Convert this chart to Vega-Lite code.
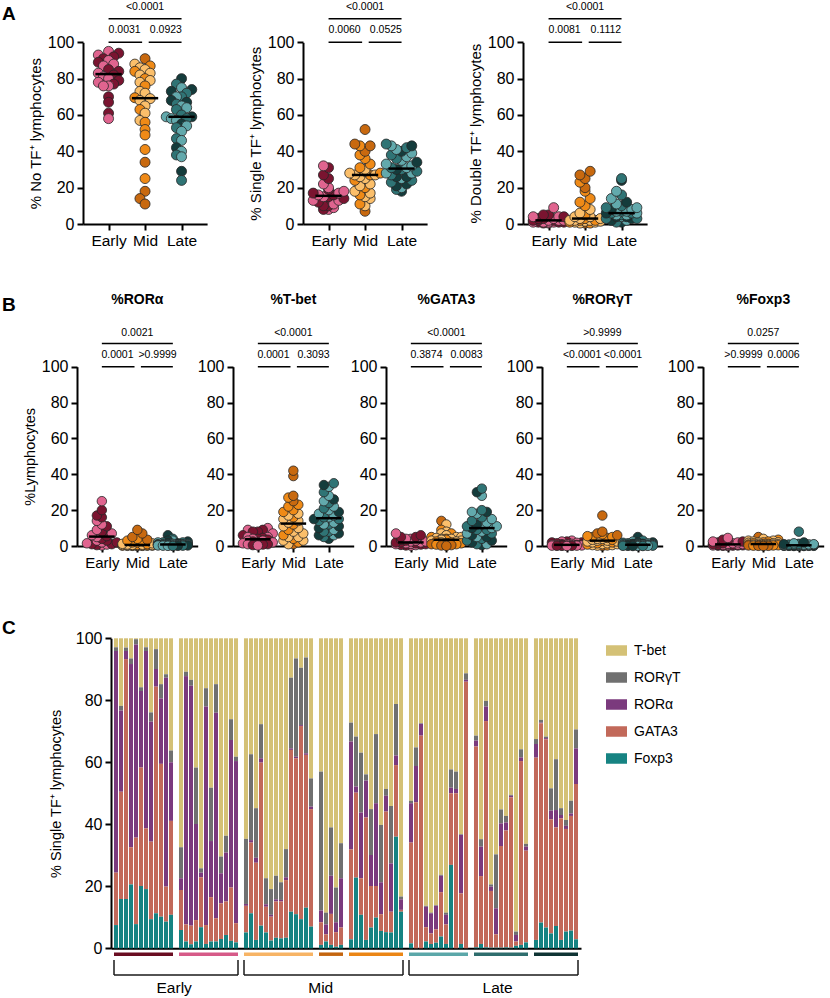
{
"$schema": "https://vega.github.io/schema/vega-lite/v6.json",
"width": 830, "height": 998, "autosize": {"type": "none"}, "padding": 0,
"config": {"font": "Liberation Sans", "view": {"stroke": null},
 "axis": {"domainColor": "black", "domainWidth": 2, "tickColor": "black", "tickWidth": 2, "tickSize": 6, "labelColor": "black", "labelFontSize": 16, "labelPadding": 3, "titleColor": "black", "titleFontSize": 15, "titleFontWeight": "normal", "grid": false, "labelOverlap": false, "labelFlush": false},
 "text": {"color": "black"}},
"datasets": {
"s": [
{"st":"Early","co":"E2","no":95,"si":8,"du":0.5,"ra":0.3,"tb":10,"ga":0.2,"rg":3,"fo":0},
{"st":"Early","co":"E1","no":94,"si":8,"du":0.5,"ra":0.5,"tb":9,"ga":0.3,"rg":2.5,"fo":0.1},
{"st":"Early","co":"E2","no":93,"si":9,"du":1,"ra":0.8,"tb":9,"ga":0.5,"rg":2.5,"fo":0.2},
{"st":"Early","co":"E1","no":92,"si":10,"du":1,"ra":1,"tb":8,"ga":0.6,"rg":2,"fo":0.2},
{"st":"Early","co":"E1","no":91,"si":10,"du":1,"ra":1,"tb":8,"ga":0.8,"rg":2,"fo":0.3},
{"st":"Early","co":"E2","no":90,"si":11,"du":1,"ra":1.5,"tb":7,"ga":1,"rg":1.8,"fo":0.3},
{"st":"Early","co":"E1","no":89,"si":12,"du":1,"ra":2,"tb":6,"ga":1,"rg":1.5,"fo":0.4},
{"st":"Early","co":"E2","no":88,"si":13,"du":1,"ra":2,"tb":5,"ga":1.2,"rg":1.2,"fo":0.5},
{"st":"Early","co":"E2","no":87,"si":13,"du":1,"ra":3,"tb":5,"ga":1.5,"rg":1,"fo":0.5},
{"st":"Early","co":"E1","no":85,"si":14,"du":2,"ra":3,"tb":4.5,"ga":1.5,"rg":1,"fo":0.6},
{"st":"Early","co":"E1","no":84,"si":15,"du":2,"ra":4,"tb":4,"ga":2,"rg":0.8,"fo":0.7},
{"st":"Early","co":"E2","no":83,"si":15,"du":2,"ra":5,"tb":4,"ga":2,"rg":0.7,"fo":0.8},
{"st":"Early","co":"E1","no":82,"si":16,"du":2,"ra":5.5,"tb":3.5,"ga":2,"rg":0.6,"fo":1},
{"st":"Early","co":"E2","no":81,"si":16,"du":2,"ra":6,"tb":3,"ga":2.5,"rg":0.5,"fo":1},
{"st":"Early","co":"E2","no":80,"si":17,"du":2,"ra":7,"tb":3,"ga":2.5,"rg":0.5,"fo":1.2},
{"st":"Early","co":"E1","no":79,"si":17,"du":3,"ra":8,"tb":2.5,"ga":3,"rg":0.4,"fo":1.5},
{"st":"Early","co":"E2","no":78,"si":18,"du":3,"ra":9,"tb":2,"ga":3,"rg":0.3,"fo":1.5},
{"st":"Early","co":"E1","no":77,"si":19,"du":3,"ra":11,"tb":2,"ga":3.5,"rg":0.3,"fo":2},
{"st":"Early","co":"E2","no":76,"si":20,"du":4,"ra":12,"tb":1.5,"ga":4,"rg":0.2,"fo":2},
{"st":"Early","co":"E2","no":76,"si":22,"du":4,"ra":14,"tb":1,"ga":4,"rg":0.2,"fo":2.5},
{"st":"Early","co":"E1","no":70,"si":25,"du":4,"ra":16,"tb":1,"ga":5,"rg":0.1,"fo":2.5},
{"st":"Early","co":"E1","no":67,"si":27,"du":5,"ra":17,"tb":0.8,"ga":5,"rg":0.1,"fo":3},
{"st":"Early","co":"E1","no":61,"si":31,"du":5,"ra":20,"tb":0.5,"ga":6,"rg":0.1,"fo":3.5},
{"st":"Early","co":"E2","no":58,"si":32,"du":9,"ra":25,"tb":0.3,"ga":7,"rg":0,"fo":4.5},
{"st":"Mid","co":"M2","no":91,"si":7,"du":0.5,"ra":0,"tb":1,"ga":14,"rg":0.1,"fo":5},
{"st":"Mid","co":"M1","no":88,"si":10,"du":0.5,"ra":0.1,"tb":1,"ga":12,"rg":0.2,"fo":4},
{"st":"Mid","co":"M3","no":87,"si":11,"du":0.5,"ra":0.1,"tb":2,"ga":9,"rg":0.3,"fo":3.5},
{"st":"Mid","co":"M1","no":86,"si":14,"du":1,"ra":0.1,"tb":3,"ga":8,"rg":0.5,"fo":3},
{"st":"Mid","co":"M1","no":85,"si":15,"du":1,"ra":0.2,"tb":3,"ga":7,"rg":0.5,"fo":3},
{"st":"Mid","co":"M3","no":84,"si":16,"du":1,"ra":0.2,"tb":4,"ga":7,"rg":0.8,"fo":2.5},
{"st":"Mid","co":"M1","no":83,"si":17,"du":1.5,"ra":0.2,"tb":5,"ga":6,"rg":1,"fo":2.5},
{"st":"Mid","co":"M1","no":82,"si":18,"du":1.5,"ra":0.3,"tb":5,"ga":5,"rg":1,"fo":2},
{"st":"Mid","co":"M3","no":80,"si":20,"du":2,"ra":0.3,"tb":6,"ga":5,"rg":1.5,"fo":2},
{"st":"Mid","co":"M1","no":79,"si":21,"du":2,"ra":0.3,"tb":7,"ga":5,"rg":1.5,"fo":2},
{"st":"Mid","co":"M1","no":78,"si":22,"du":2,"ra":0.4,"tb":8,"ga":4.5,"rg":2,"fo":1.8},
{"st":"Mid","co":"M3","no":76,"si":24,"du":2,"ra":0.4,"tb":9,"ga":4,"rg":2,"fo":1.5},
{"st":"Mid","co":"M1","no":73,"si":25,"du":2,"ra":0.5,"tb":10,"ga":4,"rg":2.5,"fo":1.5},
{"st":"Mid","co":"M1","no":72,"si":26,"du":3,"ra":0.5,"tb":11,"ga":4,"rg":2.5,"fo":1.2},
{"st":"Mid","co":"M3","no":69.5,"si":27,"du":3,"ra":0.6,"tb":12,"ga":3.5,"rg":3,"fo":1.2},
{"st":"Mid","co":"M1","no":69,"si":27,"du":3,"ra":0.6,"tb":13,"ga":3.5,"rg":3,"fo":1},
{"st":"Mid","co":"M1","no":68,"si":27,"du":4,"ra":0.7,"tb":14,"ga":3,"rg":3,"fo":1},
{"st":"Mid","co":"M1","no":65,"si":28,"du":4,"ra":0.8,"tb":15,"ga":3,"rg":3.5,"fo":0.8},
{"st":"Mid","co":"M3","no":63,"si":28,"du":5,"ra":1,"tb":16,"ga":2.5,"rg":3.5,"fo":0.8},
{"st":"Mid","co":"M1","no":61,"si":29,"du":6,"ra":1.2,"tb":17,"ga":2.5,"rg":4,"fo":0.7},
{"st":"Mid","co":"M1","no":57,"si":30,"du":8,"ra":1.5,"tb":18,"ga":2,"rg":4,"fo":0.6},
{"st":"Mid","co":"M3","no":56,"si":31,"du":10,"ra":2,"tb":19,"ga":2,"rg":4.5,"fo":0.5},
{"st":"Mid","co":"M3","no":52,"si":33,"du":12,"ra":2,"tb":20,"ga":1.5,"rg":5,"fo":0.5},
{"st":"Mid","co":"M3","no":49,"si":36,"du":14,"ra":2.5,"tb":22,"ga":1.5,"rg":5,"fo":0.4},
{"st":"Mid","co":"M3","no":41,"si":38,"du":18,"ra":3,"tb":23,"ga":1,"rg":5.5,"fo":0.3},
{"st":"Mid","co":"M2","no":34,"si":40,"du":20,"ra":3.5,"tb":25,"ga":1,"rg":6,"fo":0.3},
{"st":"Mid","co":"M3","no":25,"si":43,"du":23,"ra":4,"tb":27,"ga":0.8,"rg":6.5,"fo":0.2},
{"st":"Mid","co":"M2","no":18,"si":43,"du":25,"ra":5,"tb":28,"ga":0.5,"rg":7,"fo":0.1},
{"st":"Mid","co":"M2","no":14,"si":44,"du":27,"ra":7,"tb":39,"ga":0.3,"rg":8,"fo":0.1},
{"st":"Mid","co":"M2","no":11,"si":52,"du":29,"ra":9,"tb":42,"ga":0.1,"rg":17,"fo":0},
{"st":"Late","co":"L3","no":80,"si":18,"du":1,"ra":6,"tb":4,"ga":0.5,"rg":5,"fo":0},
{"st":"Late","co":"L2","no":77,"si":19,"du":1,"ra":4,"tb":5,"ga":1,"rg":3,"fo":0},
{"st":"Late","co":"L1","no":75,"si":20,"du":2,"ra":3,"tb":6,"ga":1,"rg":2.5,"fo":0},
{"st":"Late","co":"L3","no":74,"si":21,"du":2,"ra":3,"tb":6,"ga":2,"rg":2,"fo":0.1},
{"st":"Late","co":"L3","no":73,"si":22,"du":3,"ra":2.5,"tb":7,"ga":3,"rg":2,"fo":0.1},
{"st":"Late","co":"L2","no":72,"si":23,"du":3,"ra":2,"tb":8,"ga":3,"rg":1.8,"fo":0.1},
{"st":"Late","co":"L2","no":70,"si":24,"du":3,"ra":2,"tb":8,"ga":4,"rg":1.5,"fo":0.1},
{"st":"Late","co":"L1","no":70,"si":25,"du":4,"ra":2,"tb":9,"ga":5,"rg":1.5,"fo":0.2},
{"st":"Late","co":"L3","no":68,"si":26,"du":4,"ra":1.5,"tb":10,"ga":5,"rg":1.2,"fo":0.2},
{"st":"Late","co":"L3","no":67,"si":26,"du":4,"ra":1.5,"tb":11,"ga":6,"rg":1.2,"fo":0.2},
{"st":"Late","co":"L2","no":66,"si":27,"du":5,"ra":1.2,"tb":12,"ga":7,"rg":1,"fo":0.2},
{"st":"Late","co":"L1","no":65,"si":28,"du":5,"ra":1.2,"tb":12,"ga":7,"rg":1,"fo":0.3},
{"st":"Late","co":"L1","no":64,"si":28,"du":5,"ra":1,"tb":13,"ga":8,"rg":0.9,"fo":0.3},
{"st":"Late","co":"L2","no":63,"si":29,"du":6,"ra":1,"tb":14,"ga":9,"rg":0.8,"fo":0.3},
{"st":"Late","co":"L2","no":60,"si":30,"du":6,"ra":1,"tb":15,"ga":9,"rg":0.8,"fo":0.4},
{"st":"Late","co":"L3","no":59,"si":30,"du":6,"ra":0.9,"tb":15,"ga":10,"rg":0.7,"fo":0.4},
{"st":"Late","co":"L1","no":59,"si":31,"du":6,"ra":0.8,"tb":16,"ga":10,"rg":0.7,"fo":0.4},
{"st":"Late","co":"L2","no":58,"si":31,"du":7,"ra":0.8,"tb":16,"ga":11,"rg":0.6,"fo":0.5},
{"st":"Late","co":"L1","no":58,"si":32,"du":7,"ra":0.7,"tb":17,"ga":11,"rg":0.5,"fo":0.5},
{"st":"Late","co":"L1","no":57,"si":33,"du":7,"ra":0.6,"tb":18,"ga":12,"rg":0.5,"fo":0.5},
{"st":"Late","co":"L3","no":55,"si":34,"du":8,"ra":0.6,"tb":19,"ga":12,"rg":0.4,"fo":0.6},
{"st":"Late","co":"L1","no":54,"si":35,"du":8,"ra":0.5,"tb":20,"ga":13,"rg":0.4,"fo":0.6},
{"st":"Late","co":"L2","no":53,"si":36,"du":9,"ra":0.5,"tb":21,"ga":14,"rg":0.3,"fo":0.7},
{"st":"Late","co":"L1","no":51,"si":37,"du":9,"ra":0.4,"tb":22,"ga":15,"rg":0.3,"fo":0.8},
{"st":"Late","co":"L2","no":47,"si":38,"du":10,"ra":0.4,"tb":24,"ga":16,"rg":0.2,"fo":0.8},
{"st":"Late","co":"L1","no":46,"si":39,"du":11,"ra":0.3,"tb":25,"ga":18,"rg":0.2,"fo":0.9},
{"st":"Late","co":"L3","no":42,"si":40,"du":12,"ra":0.3,"tb":26,"ga":19,"rg":0.1,"fo":1},
{"st":"Late","co":"L1","no":40,"si":41,"du":14,"ra":0.2,"tb":28,"ga":19,"rg":0.1,"fo":1},
{"st":"Late","co":"L2","no":38,"si":42,"du":16,"ra":0.2,"tb":30,"ga":20,"rg":0.1,"fo":1.2},
{"st":"Late","co":"L1","no":37,"si":43,"du":18,"ra":0.1,"tb":33,"ga":28,"rg":0,"fo":1.5},
{"st":"Late","co":"L3","no":29,"si":43,"du":24,"ra":0.1,"tb":34,"ga":30,"rg":0,"fo":2},
{"st":"Late","co":"L2","no":24,"si":44,"du":25,"ra":0,"tb":35,"ga":32,"rg":0,"fo":8}
],
"pv": [
{"pn":"A1","fr":"Early","to":"Mid","t":"0.0031"},{"pn":"A1","fr":"Mid","to":"Late","t":"0.0923"},{"pn":"A1","fr":"Early","to":"Late","t":"<0.0001"},
{"pn":"A2","fr":"Early","to":"Mid","t":"0.0060"},{"pn":"A2","fr":"Mid","to":"Late","t":"0.0525"},{"pn":"A2","fr":"Early","to":"Late","t":"<0.0001"},
{"pn":"A3","fr":"Early","to":"Mid","t":"0.0081"},{"pn":"A3","fr":"Mid","to":"Late","t":"0.1112"},{"pn":"A3","fr":"Early","to":"Late","t":"<0.0001"},
{"pn":"B1","fr":"Early","to":"Mid","t":"0.0001"},{"pn":"B1","fr":"Mid","to":"Late","t":">0.9999"},{"pn":"B1","fr":"Early","to":"Late","t":"0.0021"},
{"pn":"B2","fr":"Early","to":"Mid","t":"0.0001"},{"pn":"B2","fr":"Mid","to":"Late","t":"0.3093"},{"pn":"B2","fr":"Early","to":"Late","t":"<0.0001"},
{"pn":"B3","fr":"Early","to":"Mid","t":"0.3874"},{"pn":"B3","fr":"Mid","to":"Late","t":"0.0083"},{"pn":"B3","fr":"Early","to":"Late","t":"<0.0001"},
{"pn":"B4","fr":"Early","to":"Mid","t":"<0.0001"},{"pn":"B4","fr":"Mid","to":"Late","t":"<0.0001"},{"pn":"B4","fr":"Early","to":"Late","t":">0.9999"},
{"pn":"B5","fr":"Early","to":"Mid","t":">0.9999"},{"pn":"B5","fr":"Mid","to":"Late","t":"0.0006"},{"pn":"B5","fr":"Early","to":"Late","t":"0.0257"}
],
"c": [
{"id":"E1.1","co":"E1","Foxp3":7.5,"GATA3":16.9,"RORα":71.5,"RORγT":1.2,"T-bet":2.9},
{"id":"E1.2","co":"E1","Foxp3":15.9,"GATA3":34.6,"RORα":26.2,"RORγT":1.5,"T-bet":21.8},
{"id":"E1.3","co":"E1","Foxp3":15.9,"GATA3":77.4,"RORα":2.6,"RORγT":1.1,"T-bet":3.0},
{"id":"E1.4","co":"E1","Foxp3":20.6,"GATA3":12.0,"RORα":59.1,"RORγT":1.8,"T-bet":6.5},
{"id":"E1.5","co":"E1","Foxp3":7.8,"GATA3":27.9,"RORα":62.3,"RORγT":1.7,"T-bet":0.3},
{"id":"E1.6","co":"E1","Foxp3":20.1,"GATA3":38.2,"RORα":24.7,"RORγT":1.2,"T-bet":15.8},
{"id":"E1.7","co":"E1","Foxp3":19.1,"GATA3":19.6,"RORα":57.2,"RORγT":1.2,"T-bet":2.9},
{"id":"E1.8","co":"E1","Foxp3":9.4,"GATA3":25.0,"RORα":38.7,"RORγT":3.0,"T-bet":23.9},
{"id":"E1.9","co":"E1","Foxp3":11.3,"GATA3":73.1,"RORα":5.7,"RORγT":6.4,"T-bet":3.5},
{"id":"E1.10","co":"E1","Foxp3":10.2,"GATA3":49.3,"RORα":21.1,"RORγT":4.6,"T-bet":14.8},
{"id":"E1.11","co":"E1","Foxp3":8.6,"GATA3":11.3,"RORα":67.4,"RORγT":1.1,"T-bet":11.6},
{"id":"E1.12","co":"E1","Foxp3":10.8,"GATA3":30.3,"RORα":18.9,"RORγT":3.8,"T-bet":36.2},
{"id":"E2.1","co":"E2","Foxp3":5.9,"GATA3":12.9,"RORα":3.8,"RORγT":10.0,"T-bet":67.4},
{"id":"E2.2","co":"E2","Foxp3":2.2,"GATA3":5.5,"RORα":80.1,"RORγT":1.4,"T-bet":10.8},
{"id":"E2.3","co":"E2","Foxp3":1.3,"GATA3":6.0,"RORα":77.4,"RORγT":1.9,"T-bet":13.4},
{"id":"E2.4","co":"E2","Foxp3":2.2,"GATA3":6.9,"RORα":31.0,"RORγT":18.2,"T-bet":41.7},
{"id":"E2.5","co":"E2","Foxp3":6.8,"GATA3":16.1,"RORα":1.5,"RORγT":1.4,"T-bet":74.2},
{"id":"E2.6","co":"E2","Foxp3":1.4,"GATA3":6.1,"RORα":70.5,"RORγT":5.9,"T-bet":16.1},
{"id":"E2.7","co":"E2","Foxp3":2.2,"GATA3":14.3,"RORα":18.1,"RORγT":17.2,"T-bet":48.2},
{"id":"E2.8","co":"E2","Foxp3":2.2,"GATA3":7.5,"RORα":66.3,"RORγT":9.2,"T-bet":14.8},
{"id":"E2.9","co":"E2","Foxp3":3.0,"GATA3":11.5,"RORα":9.7,"RORγT":5.4,"T-bet":70.4},
{"id":"E2.10","co":"E2","Foxp3":4.3,"GATA3":10.8,"RORα":15.8,"RORγT":5.4,"T-bet":63.7},
{"id":"E2.11","co":"E2","Foxp3":2.4,"GATA3":17.2,"RORα":47.6,"RORγT":6.7,"T-bet":26.1},
{"id":"E2.12","co":"E2","Foxp3":1.9,"GATA3":6.2,"RORα":52.3,"RORγT":1.4,"T-bet":38.2},
{"id":"M1.1","co":"M1","Foxp3":5.1,"GATA3":8.6,"RORα":0.6,"RORγT":21.0,"T-bet":64.7},
{"id":"M1.2","co":"M1","Foxp3":11.3,"GATA3":22.8,"RORα":0.8,"RORγT":27.7,"T-bet":37.4},
{"id":"M1.3","co":"M1","Foxp3":2.7,"GATA3":24.9,"RORα":1.6,"RORγT":16.0,"T-bet":54.8},
{"id":"M1.4","co":"M1","Foxp3":7.3,"GATA3":52.6,"RORα":1.4,"RORγT":11.0,"T-bet":27.7},
{"id":"M1.5","co":"M1","Foxp3":5.1,"GATA3":8.3,"RORα":0.8,"RORγT":8.4,"T-bet":77.4},
{"id":"M1.6","co":"M1","Foxp3":2.5,"GATA3":7.7,"RORα":0.6,"RORγT":8.3,"T-bet":80.9},
{"id":"M1.7","co":"M1","Foxp3":3.4,"GATA3":11.7,"RORα":0.7,"RORγT":7.6,"T-bet":76.6},
{"id":"M1.8","co":"M1","Foxp3":3.2,"GATA3":11.9,"RORα":0.5,"RORγT":5.7,"T-bet":78.7},
{"id":"M1.9","co":"M1","Foxp3":3.4,"GATA3":18.6,"RORα":0.9,"RORγT":9.1,"T-bet":68.0},
{"id":"M1.10","co":"M1","Foxp3":11.8,"GATA3":52.2,"RORα":0.5,"RORγT":22.8,"T-bet":12.7},
{"id":"M1.11","co":"M1","Foxp3":11.0,"GATA3":50.3,"RORα":0.5,"RORγT":31.7,"T-bet":6.5},
{"id":"M1.12","co":"M1","Foxp3":9.4,"GATA3":62.3,"RORα":0.3,"RORγT":18.5,"T-bet":9.5},
{"id":"M1.13","co":"M1","Foxp3":13.1,"GATA3":49.3,"RORα":0.5,"RORγT":30.9,"T-bet":6.2},
{"id":"M1.14","co":"M1","Foxp3":7.0,"GATA3":37.9,"RORα":0.8,"RORγT":9.1,"T-bet":45.2},
{"id":"M2.1","co":"M2","Foxp3":1.1,"GATA3":7.3,"RORα":3.8,"RORγT":44.8,"T-bet":43.0},
{"id":"M2.2","co":"M2","Foxp3":2.2,"GATA3":2.3,"RORα":3.2,"RORγT":3.8,"T-bet":88.5},
{"id":"M2.3","co":"M2","Foxp3":1.1,"GATA3":10.0,"RORα":12.3,"RORγT":15.6,"T-bet":61.0},
{"id":"M2.4","co":"M2","Foxp3":0.5,"GATA3":4.7,"RORα":3.2,"RORγT":11.2,"T-bet":80.4},
{"id":"M2.5","co":"M2","Foxp3":1.1,"GATA3":5.6,"RORα":15.9,"RORγT":11.3,"T-bet":66.1},
{"id":"M3.1","co":"M3","Foxp3":2.9,"GATA3":29.0,"RORα":34.8,"RORγT":6.1,"T-bet":27.2},
{"id":"M3.2","co":"M3","Foxp3":22.8,"GATA3":27.4,"RORα":2.0,"RORγT":16.1,"T-bet":31.7},
{"id":"M3.3","co":"M3","Foxp3":10.8,"GATA3":11.8,"RORα":21.2,"RORγT":19.3,"T-bet":36.9},
{"id":"M3.4","co":"M3","Foxp3":2.7,"GATA3":39.5,"RORα":11.9,"RORγT":2.0,"T-bet":43.9},
{"id":"M3.5","co":"M3","Foxp3":6.7,"GATA3":13.4,"RORα":10.0,"RORγT":14.8,"T-bet":55.1},
{"id":"M3.6","co":"M3","Foxp3":9.9,"GATA3":10.2,"RORα":26.7,"RORγT":22.3,"T-bet":30.9},
{"id":"M3.7","co":"M3","Foxp3":5.6,"GATA3":5.4,"RORα":10.3,"RORγT":18.5,"T-bet":60.2},
{"id":"M3.8","co":"M3","Foxp3":5.2,"GATA3":38.9,"RORα":5.1,"RORγT":2.2,"T-bet":48.6},
{"id":"M3.9","co":"M3","Foxp3":5.1,"GATA3":6.7,"RORα":15.6,"RORγT":18.5,"T-bet":54.1},
{"id":"M3.10","co":"M3","Foxp3":36.0,"GATA3":23.1,"RORα":3.1,"RORγT":16.6,"T-bet":21.2},
{"id":"M3.11","co":"M3","Foxp3":11.8,"GATA3":0.6,"RORα":3.4,"RORγT":0.9,"T-bet":83.3},
{"id":"L1.1","co":"L1","Foxp3":1.6,"GATA3":32.5,"RORα":12.7,"RORγT":0.8,"T-bet":52.4},
{"id":"L1.2","co":"L1","Foxp3":0,"GATA3":47.1,"RORα":11.7,"RORγT":6.0,"T-bet":35.2},
{"id":"L1.3","co":"L1","Foxp3":0,"GATA3":68.6,"RORα":3.8,"RORγT":0.2,"T-bet":27.4},
{"id":"L1.4","co":"L1","Foxp3":2.2,"GATA3":4.6,"RORα":6.6,"RORγT":0.3,"T-bet":86.3},
{"id":"L1.5","co":"L1","Foxp3":1.4,"GATA3":3.4,"RORα":6.5,"RORγT":0.2,"T-bet":88.5},
{"id":"L1.6","co":"L1","Foxp3":1.8,"GATA3":4.3,"RORα":7.6,"RORγT":0.2,"T-bet":86.1},
{"id":"L1.7","co":"L1","Foxp3":3.8,"GATA3":14.3,"RORα":5.3,"RORγT":0.3,"T-bet":76.3},
{"id":"L1.8","co":"L1","Foxp3":1.4,"GATA3":6.3,"RORα":3.1,"RORγT":0.7,"T-bet":88.5},
{"id":"L1.9","co":"L1","Foxp3":26.9,"GATA3":23.1,"RORα":1.8,"RORγT":5.9,"T-bet":42.3},
{"id":"L1.10","co":"L1","Foxp3":0,"GATA3":50.0,"RORα":1.4,"RORγT":5.6,"T-bet":43.0},
{"id":"L1.11","co":"L1","Foxp3":1.4,"GATA3":16.3,"RORα":18.9,"RORγT":0.2,"T-bet":63.2},
{"id":"L1.12","co":"L1","Foxp3":0,"GATA3":86.0,"RORα":0.6,"RORγT":2.1,"T-bet":11.3},
{"id":"L2.1","co":"L2","Foxp3":0.3,"GATA3":64.8,"RORα":1.9,"RORγT":1.6,"T-bet":31.4},
{"id":"L2.2","co":"L2","Foxp3":1.4,"GATA3":21.9,"RORα":9.5,"RORγT":2.4,"T-bet":64.8},
{"id":"L2.3","co":"L2","Foxp3":0.3,"GATA3":73.0,"RORα":4.7,"RORγT":1.8,"T-bet":20.2},
{"id":"L2.4","co":"L2","Foxp3":0.2,"GATA3":18.3,"RORα":1.4,"RORγT":0.7,"T-bet":79.4},
{"id":"L2.5","co":"L2","Foxp3":0.2,"GATA3":4.3,"RORα":8.4,"RORγT":17.4,"T-bet":69.7},
{"id":"L2.6","co":"L2","Foxp3":0.2,"GATA3":32.8,"RORα":7.3,"RORγT":4.5,"T-bet":55.2},
{"id":"L2.7","co":"L2","Foxp3":0.3,"GATA3":37.7,"RORα":2.6,"RORγT":2.1,"T-bet":57.3},
{"id":"L2.8","co":"L2","Foxp3":0.2,"GATA3":48.5,"RORα":0.5,"RORγT":0.3,"T-bet":50.5},
{"id":"L2.9","co":"L2","Foxp3":0.8,"GATA3":1.4,"RORα":2.1,"RORγT":1.1,"T-bet":94.6},
{"id":"L2.10","co":"L2","Foxp3":1.1,"GATA3":59.3,"RORα":1.2,"RORγT":2.6,"T-bet":35.8},
{"id":"L2.11","co":"L2","Foxp3":1.9,"GATA3":29.6,"RORα":1.3,"RORγT":0.9,"T-bet":66.3},
{"id":"L3.1","co":"L3","Foxp3":2.7,"GATA3":58.8,"RORα":4.4,"RORγT":1.6,"T-bet":32.5},
{"id":"L3.2","co":"L3","Foxp3":8.3,"GATA3":64.3,"RORα":0.2,"RORγT":0.9,"T-bet":26.3},
{"id":"L3.3","co":"L3","Foxp3":6.7,"GATA3":60.7,"RORα":0.4,"RORγT":0.5,"T-bet":31.7},
{"id":"L3.4","co":"L3","Foxp3":4.8,"GATA3":36.8,"RORα":2.8,"RORγT":7.2,"T-bet":48.4},
{"id":"L3.5","co":"L3","Foxp3":7.2,"GATA3":31.8,"RORα":5.6,"RORγT":16.4,"T-bet":39.0},
{"id":"L3.6","co":"L3","Foxp3":2.7,"GATA3":39.2,"RORα":1.1,"RORγT":2.2,"T-bet":54.8},
{"id":"L3.7","co":"L3","Foxp3":5.4,"GATA3":33.1,"RORα":1.0,"RORγT":1.9,"T-bet":58.6},
{"id":"L3.8","co":"L3","Foxp3":5.7,"GATA3":37.0,"RORα":0.8,"RORγT":4.1,"T-bet":52.4},
{"id":"L3.9","co":"L3","Foxp3":2.9,"GATA3":50.1,"RORα":11.5,"RORγT":6.1,"T-bet":29.4}
],
"cohorts": [
{"co":"E1","first":"E1.1","last":"E1.12"},{"co":"E2","first":"E2.1","last":"E2.12"},{"co":"M1","first":"M1.1","last":"M1.14"},{"co":"M2","first":"M2.1","last":"M2.5"},
{"co":"M3","first":"M3.1","last":"M3.11"},{"co":"L1","first":"L1.1","last":"L1.12"},{"co":"L2","first":"L2.1","last":"L2.11"},{"co":"L3","first":"L3.1","last":"L3.9"}
],
"stages": [
{"st":"Early","first":"E1.1","last":"E2.12","mid":"g1"},{"st":"Mid","first":"M1.1","last":"M3.11","mid":"M2.1"},{"st":"Late","first":"L1.1","last":"L3.9","mid":"L2.5"}
]
},
"resolve": {"scale": {"x": "independent", "y": "independent", "fill": "independent", "stroke": "independent", "size": "independent"}, "axis": {"x": "independent", "y": "independent"}, "legend": {"fill": "independent", "stroke": "independent"}},
"layer": [
 {"data": {"name": "s"},
  "transform": [{"bin": {"step": 5, "extent": [0, 100]}, "field": "no", "as": "bn_no"},
   {"window": [{"op": "row_number", "as": "r_no"}], "groupby": ["st", "bn_no"], "sort": [{"field": "no"}]},
   {"calculate": "(datum.r_no-1)%7+1", "as": "k_no"},
   {"calculate": "indexof(['Early','Mid','Late'],datum.st)+1+(datum.k_no%2==0?-1:1)*floor(datum.k_no/2)*0.14", "as": "xo_no"}],
  "mark": {"type": "circle", "size": 100, "stroke": "#262626", "strokeWidth": 0.8, "opacity": 1},
  "encoding": {
   "x": {"field": "xo_no", "type": "quantitative", "scale": {"domain": [0.3, 3.7], "range": [83, 207.1], "nice": false, "zero": false}, "axis": {"orient": "bottom", "offset": -774, "values": [1, 2, 3], "labelExpr": "['','Early','Mid','Late'][datum.value]", "title": null, "labelFontSize": 15.5}},
   "y": {"field": "no", "type": "quantitative", "scale": {"domain": [0, 100], "range": [224, 42.3], "nice": false, "zero": false}, "axis": {"orient": "left", "offset": -83, "values": [0, 20, 40, 60, 80, 100], "title": "% No TF⁺ lymphocytes", "titlePadding": 3.5}},
   "fill": {"field": "co", "type": "nominal", "scale": {"domain": ["E1","E2","M1","M2","M3","L1","L2","L3"], "range": ["#7a1430","#e0648f","#fbbf6b","#c8690f","#ef8a17","#62a9ac","#2f7475","#143c3c"]}, "legend": null}}},
 {"data": {"name": "s"},
  "transform": [{"aggregate": [{"op": "median", "field": "no", "as": "m_no"}], "groupby": ["st"]},
   {"calculate": "indexof(['Early','Mid','Late'],datum.st)+1", "as": "gi_no"},
   {"calculate": "datum.gi_no-0.36", "as": "xa_no"}, {"calculate": "datum.gi_no+0.36", "as": "xb_no"}],
  "mark": {"type": "rule", "strokeWidth": 2.5, "color": "black"},
  "encoding": {"x": {"field": "xa_no", "type": "quantitative", "scale": {"domain": [0.3, 3.7], "range": [83, 207.1], "nice": false, "zero": false}, "axis": null}, "x2": {"field": "xb_no"},
   "y": {"field": "m_no", "type": "quantitative", "scale": {"domain": [0, 100], "range": [224, 42.3], "nice": false, "zero": false}, "axis": null}}},
 {"data": {"name": "pv"},
  "transform": [{"filter": "datum.pn=='A1'"},
   {"calculate": "indexof(['Early','Mid','Late'],datum.fr)+1", "as": "a"}, {"calculate": "indexof(['Early','Mid','Late'],datum.to)+1", "as": "b"},
   {"calculate": "datum.b-datum.a==2?1:0", "as": "lv"}, {"calculate": "datum.a+(datum.lv==0&&datum.a==2?0.1:0)", "as": "p1"},
   {"calculate": "datum.b-(datum.lv==0&&datum.b==2?0.08:0)", "as": "p2"}, {"calculate": "100+datum.lv*13", "as": "yl"}],
  "mark": {"type": "rule", "strokeWidth": 1.5, "color": "black"},
  "encoding": {"x": {"field": "p1", "type": "quantitative", "scale": {"domain": [0.3, 3.7], "range": [83, 207.1], "nice": false, "zero": false}, "axis": null}, "x2": {"field": "p2"},
   "y": {"field": "yl", "type": "quantitative", "scale": {"domain": [0, 100], "range": [224, 42.3], "nice": false, "zero": false}, "axis": null}}},
 {"data": {"name": "pv"},
  "transform": [{"filter": "datum.pn=='A1'"},
   {"calculate": "indexof(['Early','Mid','Late'],datum.fr)+1", "as": "a"}, {"calculate": "indexof(['Early','Mid','Late'],datum.to)+1", "as": "b"},
   {"calculate": "datum.b-datum.a==2?1:0", "as": "lv"},
   {"calculate": "datum.lv==1?2:(datum.a==1?1.44:2.57)", "as": "pm"},
   {"calculate": "106.6+datum.lv*12.6", "as": "yt"}],
  "mark": {"type": "text", "fontSize": 10.5, "baseline": "middle"},
  "encoding": {"x": {"field": "pm", "type": "quantitative", "scale": {"domain": [0.3, 3.7], "range": [83, 207.1], "nice": false, "zero": false}, "axis": null},
   "y": {"field": "yt", "type": "quantitative", "scale": {"domain": [0, 100], "range": [224, 42.3], "nice": false, "zero": false}, "axis": null}, "text": {"field": "t"}}},
 {"data": {"values": [{"t": "A"}]}, "mark": {"type": "text", "fontSize": 19, "fontWeight": "bold"},
  "encoding": {"x": {"datum": -1.73, "type": "quantitative", "scale": {"domain": [0.3, 3.7], "range": [83, 207.1], "nice": false, "zero": false}, "axis": null},
   "y": {"datum": 115.6, "type": "quantitative", "scale": {"domain": [0, 100], "range": [224, 42.3], "nice": false, "zero": false}, "axis": null}, "text": {"field": "t"}}},

 {"data": {"name": "s"},
  "transform": [{"bin": {"step": 5, "extent": [0, 100]}, "field": "si", "as": "bn_si"},
   {"window": [{"op": "row_number", "as": "r_si"}], "groupby": ["st", "bn_si"], "sort": [{"field": "si"}]},
   {"calculate": "(datum.r_si-1)%7+1", "as": "k_si"},
   {"calculate": "indexof(['Early','Mid','Late'],datum.st)+1+(datum.k_si%2==0?-1:1)*floor(datum.k_si/2)*0.14", "as": "xo_si"}],
  "mark": {"type": "circle", "size": 100, "stroke": "#262626", "strokeWidth": 0.8, "opacity": 1},
  "encoding": {
   "x": {"field": "xo_si", "type": "quantitative", "scale": {"domain": [0.3, 3.7], "range": [303, 427.1], "nice": false, "zero": false}, "axis": {"orient": "bottom", "offset": -774, "values": [1, 2, 3], "labelExpr": "['','Early','Mid','Late'][datum.value]", "title": null, "labelFontSize": 15.5}},
   "y": {"field": "si", "type": "quantitative", "scale": {"domain": [0, 100], "range": [224, 42.3], "nice": false, "zero": false}, "axis": {"orient": "left", "offset": -303, "values": [0, 20, 40, 60, 80, 100], "title": "% Single TF⁺ lymphocytes", "titlePadding": 3.5}},
   "fill": {"field": "co", "type": "nominal", "scale": {"domain": ["E1","E2","M1","M2","M3","L1","L2","L3"], "range": ["#7a1430","#e0648f","#fbbf6b","#c8690f","#ef8a17","#62a9ac","#2f7475","#143c3c"]}, "legend": null}}},
 {"data": {"name": "s"},
  "transform": [{"aggregate": [{"op": "median", "field": "si", "as": "m_si"}], "groupby": ["st"]},
   {"calculate": "indexof(['Early','Mid','Late'],datum.st)+1", "as": "gi_si"},
   {"calculate": "datum.gi_si-0.36", "as": "xa_si"}, {"calculate": "datum.gi_si+0.36", "as": "xb_si"}],
  "mark": {"type": "rule", "strokeWidth": 2.5, "color": "black"},
  "encoding": {"x": {"field": "xa_si", "type": "quantitative", "scale": {"domain": [0.3, 3.7], "range": [303, 427.1], "nice": false, "zero": false}, "axis": null}, "x2": {"field": "xb_si"},
   "y": {"field": "m_si", "type": "quantitative", "scale": {"domain": [0, 100], "range": [224, 42.3], "nice": false, "zero": false}, "axis": null}}},
 {"data": {"name": "pv"},
  "transform": [{"filter": "datum.pn=='A2'"},
   {"calculate": "indexof(['Early','Mid','Late'],datum.fr)+1", "as": "a"}, {"calculate": "indexof(['Early','Mid','Late'],datum.to)+1", "as": "b"},
   {"calculate": "datum.b-datum.a==2?1:0", "as": "lv"}, {"calculate": "datum.a+(datum.lv==0&&datum.a==2?0.1:0)", "as": "p1"},
   {"calculate": "datum.b-(datum.lv==0&&datum.b==2?0.08:0)", "as": "p2"}, {"calculate": "100+datum.lv*13", "as": "yl"}],
  "mark": {"type": "rule", "strokeWidth": 1.5, "color": "black"},
  "encoding": {"x": {"field": "p1", "type": "quantitative", "scale": {"domain": [0.3, 3.7], "range": [303, 427.1], "nice": false, "zero": false}, "axis": null}, "x2": {"field": "p2"},
   "y": {"field": "yl", "type": "quantitative", "scale": {"domain": [0, 100], "range": [224, 42.3], "nice": false, "zero": false}, "axis": null}}},
 {"data": {"name": "pv"},
  "transform": [{"filter": "datum.pn=='A2'"},
   {"calculate": "indexof(['Early','Mid','Late'],datum.fr)+1", "as": "a"}, {"calculate": "indexof(['Early','Mid','Late'],datum.to)+1", "as": "b"},
   {"calculate": "datum.b-datum.a==2?1:0", "as": "lv"},
   {"calculate": "datum.lv==1?2:(datum.a==1?1.44:2.57)", "as": "pm"},
   {"calculate": "106.6+datum.lv*12.6", "as": "yt"}],
  "mark": {"type": "text", "fontSize": 10.5, "baseline": "middle"},
  "encoding": {"x": {"field": "pm", "type": "quantitative", "scale": {"domain": [0.3, 3.7], "range": [303, 427.1], "nice": false, "zero": false}, "axis": null},
   "y": {"field": "yt", "type": "quantitative", "scale": {"domain": [0, 100], "range": [224, 42.3], "nice": false, "zero": false}, "axis": null}, "text": {"field": "t"}}},

 {"data": {"name": "s"},
  "transform": [{"bin": {"step": 5, "extent": [0, 100]}, "field": "du", "as": "bn_du"},
   {"window": [{"op": "row_number", "as": "r_du"}], "groupby": ["st", "bn_du"], "sort": [{"field": "du"}]},
   {"calculate": "(datum.r_du-1)%7+1", "as": "k_du"},
   {"calculate": "indexof(['Early','Mid','Late'],datum.st)+1+(datum.k_du%2==0?-1:1)*floor(datum.k_du/2)*0.14", "as": "xo_du"}],
  "mark": {"type": "circle", "size": 100, "stroke": "#262626", "strokeWidth": 0.8, "opacity": 1},
  "encoding": {
   "x": {"field": "xo_du", "type": "quantitative", "scale": {"domain": [0.3, 3.7], "range": [523, 647.1], "nice": false, "zero": false}, "axis": {"orient": "bottom", "offset": -774, "values": [1, 2, 3], "labelExpr": "['','Early','Mid','Late'][datum.value]", "title": null, "labelFontSize": 15.5}},
   "y": {"field": "du", "type": "quantitative", "scale": {"domain": [0, 100], "range": [224, 42.3], "nice": false, "zero": false}, "axis": {"orient": "left", "offset": -523, "values": [0, 20, 40, 60, 80, 100], "title": "% Double TF⁺ lymphocytes", "titlePadding": 3.5}},
   "fill": {"field": "co", "type": "nominal", "scale": {"domain": ["E1","E2","M1","M2","M3","L1","L2","L3"], "range": ["#7a1430","#e0648f","#fbbf6b","#c8690f","#ef8a17","#62a9ac","#2f7475","#143c3c"]}, "legend": null}}},
 {"data": {"name": "s"},
  "transform": [{"aggregate": [{"op": "median", "field": "du", "as": "m_du"}], "groupby": ["st"]},
   {"calculate": "indexof(['Early','Mid','Late'],datum.st)+1", "as": "gi_du"},
   {"calculate": "datum.gi_du-0.36", "as": "xa_du"}, {"calculate": "datum.gi_du+0.36", "as": "xb_du"}],
  "mark": {"type": "rule", "strokeWidth": 2.5, "color": "black"},
  "encoding": {"x": {"field": "xa_du", "type": "quantitative", "scale": {"domain": [0.3, 3.7], "range": [523, 647.1], "nice": false, "zero": false}, "axis": null}, "x2": {"field": "xb_du"},
   "y": {"field": "m_du", "type": "quantitative", "scale": {"domain": [0, 100], "range": [224, 42.3], "nice": false, "zero": false}, "axis": null}}},
 {"data": {"name": "pv"},
  "transform": [{"filter": "datum.pn=='A3'"},
   {"calculate": "indexof(['Early','Mid','Late'],datum.fr)+1", "as": "a"}, {"calculate": "indexof(['Early','Mid','Late'],datum.to)+1", "as": "b"},
   {"calculate": "datum.b-datum.a==2?1:0", "as": "lv"}, {"calculate": "datum.a+(datum.lv==0&&datum.a==2?0.1:0)", "as": "p1"},
   {"calculate": "datum.b-(datum.lv==0&&datum.b==2?0.08:0)", "as": "p2"}, {"calculate": "100+datum.lv*13", "as": "yl"}],
  "mark": {"type": "rule", "strokeWidth": 1.5, "color": "black"},
  "encoding": {"x": {"field": "p1", "type": "quantitative", "scale": {"domain": [0.3, 3.7], "range": [523, 647.1], "nice": false, "zero": false}, "axis": null}, "x2": {"field": "p2"},
   "y": {"field": "yl", "type": "quantitative", "scale": {"domain": [0, 100], "range": [224, 42.3], "nice": false, "zero": false}, "axis": null}}},
 {"data": {"name": "pv"},
  "transform": [{"filter": "datum.pn=='A3'"},
   {"calculate": "indexof(['Early','Mid','Late'],datum.fr)+1", "as": "a"}, {"calculate": "indexof(['Early','Mid','Late'],datum.to)+1", "as": "b"},
   {"calculate": "datum.b-datum.a==2?1:0", "as": "lv"},
   {"calculate": "datum.lv==1?2:(datum.a==1?1.44:2.57)", "as": "pm"},
   {"calculate": "106.6+datum.lv*12.6", "as": "yt"}],
  "mark": {"type": "text", "fontSize": 10.5, "baseline": "middle"},
  "encoding": {"x": {"field": "pm", "type": "quantitative", "scale": {"domain": [0.3, 3.7], "range": [523, 647.1], "nice": false, "zero": false}, "axis": null},
   "y": {"field": "yt", "type": "quantitative", "scale": {"domain": [0, 100], "range": [224, 42.3], "nice": false, "zero": false}, "axis": null}, "text": {"field": "t"}}},

 {"data": {"name": "s"},
  "transform": [{"bin": {"step": 4, "extent": [0, 100]}, "field": "ra", "as": "bn_ra"},
   {"window": [{"op": "row_number", "as": "r_ra"}], "groupby": ["st", "bn_ra"], "sort": [{"field": "ra"}]},
   {"calculate": "(datum.r_ra-1)%7+1", "as": "k_ra"},
   {"calculate": "indexof(['Early','Mid','Late'],datum.st)+1+(datum.k_ra%2==0?-1:1)*floor(datum.k_ra/2)*0.14", "as": "xo_ra"}],
  "mark": {"type": "circle", "size": 90, "stroke": "#262626", "strokeWidth": 0.8, "opacity": 1},
  "encoding": {
   "x": {"field": "xo_ra", "type": "quantitative", "scale": {"domain": [0.3, 3.7], "range": [77, 197.7], "nice": false, "zero": false}, "axis": {"orient": "bottom", "offset": -452, "values": [1, 2, 3], "labelExpr": "['','Early','Mid','Late'][datum.value]", "title": null, "labelFontSize": 15}},
   "y": {"field": "ra", "type": "quantitative", "scale": {"domain": [0, 100], "range": [546, 366.7], "nice": false, "zero": false}, "axis": {"orient": "left", "offset": -77, "values": [0, 20, 40, 60, 80, 100], "title": "%Lymphocytes", "titlePadding": 3.5, "titleFontSize": 14.5}},
   "fill": {"field": "co", "type": "nominal", "scale": {"domain": ["E1","E2","M1","M2","M3","L1","L2","L3"], "range": ["#7a1430","#e0648f","#fbbf6b","#c8690f","#ef8a17","#62a9ac","#2f7475","#143c3c"]}, "legend": null}}},
 {"data": {"name": "s"},
  "transform": [{"aggregate": [{"op": "median", "field": "ra", "as": "m_ra"}], "groupby": ["st"]},
   {"calculate": "indexof(['Early','Mid','Late'],datum.st)+1", "as": "gi_ra"},
   {"calculate": "datum.gi_ra-0.36", "as": "xa_ra"}, {"calculate": "datum.gi_ra+0.36", "as": "xb_ra"}],
  "mark": {"type": "rule", "strokeWidth": 2.5, "color": "black"},
  "encoding": {"x": {"field": "xa_ra", "type": "quantitative", "scale": {"domain": [0.3, 3.7], "range": [77, 197.7], "nice": false, "zero": false}, "axis": null}, "x2": {"field": "xb_ra"},
   "y": {"field": "m_ra", "type": "quantitative", "scale": {"domain": [0, 100], "range": [546, 366.7], "nice": false, "zero": false}, "axis": null}}},
 {"data": {"name": "pv"},
  "transform": [{"filter": "datum.pn=='B1'"},
   {"calculate": "indexof(['Early','Mid','Late'],datum.fr)+1", "as": "a"}, {"calculate": "indexof(['Early','Mid','Late'],datum.to)+1", "as": "b"},
   {"calculate": "datum.b-datum.a==2?1:0", "as": "lv"}, {"calculate": "datum.a+(datum.lv==0&&datum.a==2?0.1:0)", "as": "p1"},
   {"calculate": "datum.b-(datum.lv==0&&datum.b==2?0.08:0)", "as": "p2"}, {"calculate": "100+datum.lv*13", "as": "yl"}],
  "mark": {"type": "rule", "strokeWidth": 1.5, "color": "black"},
  "encoding": {"x": {"field": "p1", "type": "quantitative", "scale": {"domain": [0.3, 3.7], "range": [77, 197.7], "nice": false, "zero": false}, "axis": null}, "x2": {"field": "p2"},
   "y": {"field": "yl", "type": "quantitative", "scale": {"domain": [0, 100], "range": [546, 366.7], "nice": false, "zero": false}, "axis": null}}},
 {"data": {"name": "pv"},
  "transform": [{"filter": "datum.pn=='B1'"},
   {"calculate": "indexof(['Early','Mid','Late'],datum.fr)+1", "as": "a"}, {"calculate": "indexof(['Early','Mid','Late'],datum.to)+1", "as": "b"},
   {"calculate": "datum.b-datum.a==2?1:0", "as": "lv"},
   {"calculate": "datum.lv==1?2:(datum.a==1?1.44:2.57)", "as": "pm"},
   {"calculate": "106.4+datum.lv*12.6", "as": "yt"}],
  "mark": {"type": "text", "fontSize": 10.5, "baseline": "middle"},
  "encoding": {"x": {"field": "pm", "type": "quantitative", "scale": {"domain": [0.3, 3.7], "range": [77, 197.7], "nice": false, "zero": false}, "axis": null},
   "y": {"field": "yt", "type": "quantitative", "scale": {"domain": [0, 100], "range": [546, 366.7], "nice": false, "zero": false}, "axis": null}, "text": {"field": "t"}}},
 {"data": {"values": [{"t": "%RORα", "x": 2, "y": 137.2, "s": 14}, {"t": "B", "x": -1.62, "y": 134.4, "s": 19}, {"t": "C", "x": -1.62, "y": -45.7, "s": 19}]},
  "mark": {"type": "text", "fontWeight": "bold"},
  "encoding": {"x": {"field": "x", "type": "quantitative", "scale": {"domain": [0.3, 3.7], "range": [77, 197.7], "nice": false, "zero": false}, "axis": null},
   "y": {"field": "y", "type": "quantitative", "scale": {"domain": [0, 100], "range": [546, 366.7], "nice": false, "zero": false}, "axis": null},
   "text": {"field": "t"}, "size": {"field": "s", "type": "quantitative", "scale": null}}},

 {"data": {"name": "s"},
  "transform": [{"bin": {"step": 4, "extent": [0, 100]}, "field": "tb", "as": "bn_tb"},
   {"window": [{"op": "row_number", "as": "r_tb"}], "groupby": ["st", "bn_tb"], "sort": [{"field": "tb"}]},
   {"calculate": "(datum.r_tb-1)%7+1", "as": "k_tb"},
   {"calculate": "indexof(['Early','Mid','Late'],datum.st)+1+(datum.k_tb%2==0?-1:1)*floor(datum.k_tb/2)*0.14", "as": "xo_tb"}],
  "mark": {"type": "circle", "size": 90, "stroke": "#262626", "strokeWidth": 0.8, "opacity": 1},
  "encoding": {
   "x": {"field": "xo_tb", "type": "quantitative", "scale": {"domain": [0.3, 3.7], "range": [233, 353.7], "nice": false, "zero": false}, "axis": {"orient": "bottom", "offset": -452, "values": [1, 2, 3], "labelExpr": "['','Early','Mid','Late'][datum.value]", "title": null, "labelFontSize": 15}},
   "y": {"field": "tb", "type": "quantitative", "scale": {"domain": [0, 100], "range": [546, 366.7], "nice": false, "zero": false}, "axis": {"orient": "left", "offset": -233, "values": [0, 20, 40, 60, 80, 100], "title": null}},
   "fill": {"field": "co", "type": "nominal", "scale": {"domain": ["E1","E2","M1","M2","M3","L1","L2","L3"], "range": ["#7a1430","#e0648f","#fbbf6b","#c8690f","#ef8a17","#62a9ac","#2f7475","#143c3c"]}, "legend": null}}},
 {"data": {"name": "s"},
  "transform": [{"aggregate": [{"op": "median", "field": "tb", "as": "m_tb"}], "groupby": ["st"]},
   {"calculate": "indexof(['Early','Mid','Late'],datum.st)+1", "as": "gi_tb"},
   {"calculate": "datum.gi_tb-0.36", "as": "xa_tb"}, {"calculate": "datum.gi_tb+0.36", "as": "xb_tb"}],
  "mark": {"type": "rule", "strokeWidth": 2.5, "color": "black"},
  "encoding": {"x": {"field": "xa_tb", "type": "quantitative", "scale": {"domain": [0.3, 3.7], "range": [233, 353.7], "nice": false, "zero": false}, "axis": null}, "x2": {"field": "xb_tb"},
   "y": {"field": "m_tb", "type": "quantitative", "scale": {"domain": [0, 100], "range": [546, 366.7], "nice": false, "zero": false}, "axis": null}}},
 {"data": {"name": "pv"},
  "transform": [{"filter": "datum.pn=='B2'"},
   {"calculate": "indexof(['Early','Mid','Late'],datum.fr)+1", "as": "a"}, {"calculate": "indexof(['Early','Mid','Late'],datum.to)+1", "as": "b"},
   {"calculate": "datum.b-datum.a==2?1:0", "as": "lv"}, {"calculate": "datum.a+(datum.lv==0&&datum.a==2?0.1:0)", "as": "p1"},
   {"calculate": "datum.b-(datum.lv==0&&datum.b==2?0.08:0)", "as": "p2"}, {"calculate": "100+datum.lv*13", "as": "yl"}],
  "mark": {"type": "rule", "strokeWidth": 1.5, "color": "black"},
  "encoding": {"x": {"field": "p1", "type": "quantitative", "scale": {"domain": [0.3, 3.7], "range": [233, 353.7], "nice": false, "zero": false}, "axis": null}, "x2": {"field": "p2"},
   "y": {"field": "yl", "type": "quantitative", "scale": {"domain": [0, 100], "range": [546, 366.7], "nice": false, "zero": false}, "axis": null}}},
 {"data": {"name": "pv"},
  "transform": [{"filter": "datum.pn=='B2'"},
   {"calculate": "indexof(['Early','Mid','Late'],datum.fr)+1", "as": "a"}, {"calculate": "indexof(['Early','Mid','Late'],datum.to)+1", "as": "b"},
   {"calculate": "datum.b-datum.a==2?1:0", "as": "lv"},
   {"calculate": "datum.lv==1?2:(datum.a==1?1.44:2.57)", "as": "pm"},
   {"calculate": "106.4+datum.lv*12.6", "as": "yt"}],
  "mark": {"type": "text", "fontSize": 10.5, "baseline": "middle"},
  "encoding": {"x": {"field": "pm", "type": "quantitative", "scale": {"domain": [0.3, 3.7], "range": [233, 353.7], "nice": false, "zero": false}, "axis": null},
   "y": {"field": "yt", "type": "quantitative", "scale": {"domain": [0, 100], "range": [546, 366.7], "nice": false, "zero": false}, "axis": null}, "text": {"field": "t"}}},
 {"data": {"values": [{"t": "%T-bet"}]}, "mark": {"type": "text", "fontWeight": "bold", "fontSize": 14},
  "encoding": {"x": {"datum": 2, "type": "quantitative", "scale": {"domain": [0.3, 3.7], "range": [233, 353.7], "nice": false, "zero": false}, "axis": null},
   "y": {"datum": 137.2, "type": "quantitative", "scale": {"domain": [0, 100], "range": [546, 366.7], "nice": false, "zero": false}, "axis": null}, "text": {"field": "t"}}},

 {"data": {"name": "s"},
  "transform": [{"bin": {"step": 4, "extent": [0, 100]}, "field": "ga", "as": "bn_ga"},
   {"window": [{"op": "row_number", "as": "r_ga"}], "groupby": ["st", "bn_ga"], "sort": [{"field": "ga"}]},
   {"calculate": "(datum.r_ga-1)%7+1", "as": "k_ga"},
   {"calculate": "indexof(['Early','Mid','Late'],datum.st)+1+(datum.k_ga%2==0?-1:1)*floor(datum.k_ga/2)*0.14", "as": "xo_ga"}],
  "mark": {"type": "circle", "size": 90, "stroke": "#262626", "strokeWidth": 0.8, "opacity": 1},
  "encoding": {
   "x": {"field": "xo_ga", "type": "quantitative", "scale": {"domain": [0.3, 3.7], "range": [386, 506.7], "nice": false, "zero": false}, "axis": {"orient": "bottom", "offset": -452, "values": [1, 2, 3], "labelExpr": "['','Early','Mid','Late'][datum.value]", "title": null, "labelFontSize": 15}},
   "y": {"field": "ga", "type": "quantitative", "scale": {"domain": [0, 100], "range": [546, 366.7], "nice": false, "zero": false}, "axis": {"orient": "left", "offset": -386, "values": [0, 20, 40, 60, 80, 100], "title": null}},
   "fill": {"field": "co", "type": "nominal", "scale": {"domain": ["E1","E2","M1","M2","M3","L1","L2","L3"], "range": ["#7a1430","#e0648f","#fbbf6b","#c8690f","#ef8a17","#62a9ac","#2f7475","#143c3c"]}, "legend": null}}},
 {"data": {"name": "s"},
  "transform": [{"aggregate": [{"op": "median", "field": "ga", "as": "m_ga"}], "groupby": ["st"]},
   {"calculate": "indexof(['Early','Mid','Late'],datum.st)+1", "as": "gi_ga"},
   {"calculate": "datum.gi_ga-0.36", "as": "xa_ga"}, {"calculate": "datum.gi_ga+0.36", "as": "xb_ga"}],
  "mark": {"type": "rule", "strokeWidth": 2.5, "color": "black"},
  "encoding": {"x": {"field": "xa_ga", "type": "quantitative", "scale": {"domain": [0.3, 3.7], "range": [386, 506.7], "nice": false, "zero": false}, "axis": null}, "x2": {"field": "xb_ga"},
   "y": {"field": "m_ga", "type": "quantitative", "scale": {"domain": [0, 100], "range": [546, 366.7], "nice": false, "zero": false}, "axis": null}}},
 {"data": {"name": "pv"},
  "transform": [{"filter": "datum.pn=='B3'"},
   {"calculate": "indexof(['Early','Mid','Late'],datum.fr)+1", "as": "a"}, {"calculate": "indexof(['Early','Mid','Late'],datum.to)+1", "as": "b"},
   {"calculate": "datum.b-datum.a==2?1:0", "as": "lv"}, {"calculate": "datum.a+(datum.lv==0&&datum.a==2?0.1:0)", "as": "p1"},
   {"calculate": "datum.b-(datum.lv==0&&datum.b==2?0.08:0)", "as": "p2"}, {"calculate": "100+datum.lv*13", "as": "yl"}],
  "mark": {"type": "rule", "strokeWidth": 1.5, "color": "black"},
  "encoding": {"x": {"field": "p1", "type": "quantitative", "scale": {"domain": [0.3, 3.7], "range": [386, 506.7], "nice": false, "zero": false}, "axis": null}, "x2": {"field": "p2"},
   "y": {"field": "yl", "type": "quantitative", "scale": {"domain": [0, 100], "range": [546, 366.7], "nice": false, "zero": false}, "axis": null}}},
 {"data": {"name": "pv"},
  "transform": [{"filter": "datum.pn=='B3'"},
   {"calculate": "indexof(['Early','Mid','Late'],datum.fr)+1", "as": "a"}, {"calculate": "indexof(['Early','Mid','Late'],datum.to)+1", "as": "b"},
   {"calculate": "datum.b-datum.a==2?1:0", "as": "lv"},
   {"calculate": "datum.lv==1?2:(datum.a==1?1.44:2.57)", "as": "pm"},
   {"calculate": "106.4+datum.lv*12.6", "as": "yt"}],
  "mark": {"type": "text", "fontSize": 10.5, "baseline": "middle"},
  "encoding": {"x": {"field": "pm", "type": "quantitative", "scale": {"domain": [0.3, 3.7], "range": [386, 506.7], "nice": false, "zero": false}, "axis": null},
   "y": {"field": "yt", "type": "quantitative", "scale": {"domain": [0, 100], "range": [546, 366.7], "nice": false, "zero": false}, "axis": null}, "text": {"field": "t"}}},
 {"data": {"values": [{"t": "%GATA3"}]}, "mark": {"type": "text", "fontWeight": "bold", "fontSize": 14},
  "encoding": {"x": {"datum": 2, "type": "quantitative", "scale": {"domain": [0.3, 3.7], "range": [386, 506.7], "nice": false, "zero": false}, "axis": null},
   "y": {"datum": 137.2, "type": "quantitative", "scale": {"domain": [0, 100], "range": [546, 366.7], "nice": false, "zero": false}, "axis": null}, "text": {"field": "t"}}},

 {"data": {"name": "s"},
  "transform": [{"bin": {"step": 4, "extent": [0, 100]}, "field": "rg", "as": "bn_rg"},
   {"window": [{"op": "row_number", "as": "r_rg"}], "groupby": ["st", "bn_rg"], "sort": [{"field": "rg"}]},
   {"calculate": "(datum.r_rg-1)%7+1", "as": "k_rg"},
   {"calculate": "indexof(['Early','Mid','Late'],datum.st)+1+(datum.k_rg%2==0?-1:1)*floor(datum.k_rg/2)*0.14", "as": "xo_rg"}],
  "mark": {"type": "circle", "size": 90, "stroke": "#262626", "strokeWidth": 0.8, "opacity": 1},
  "encoding": {
   "x": {"field": "xo_rg", "type": "quantitative", "scale": {"domain": [0.3, 3.7], "range": [542, 662.7], "nice": false, "zero": false}, "axis": {"orient": "bottom", "offset": -452, "values": [1, 2, 3], "labelExpr": "['','Early','Mid','Late'][datum.value]", "title": null, "labelFontSize": 15}},
   "y": {"field": "rg", "type": "quantitative", "scale": {"domain": [0, 100], "range": [546, 366.7], "nice": false, "zero": false}, "axis": {"orient": "left", "offset": -542, "values": [0, 20, 40, 60, 80, 100], "title": null}},
   "fill": {"field": "co", "type": "nominal", "scale": {"domain": ["E1","E2","M1","M2","M3","L1","L2","L3"], "range": ["#7a1430","#e0648f","#fbbf6b","#c8690f","#ef8a17","#62a9ac","#2f7475","#143c3c"]}, "legend": null}}},
 {"data": {"name": "s"},
  "transform": [{"aggregate": [{"op": "median", "field": "rg", "as": "m_rg"}], "groupby": ["st"]},
   {"calculate": "indexof(['Early','Mid','Late'],datum.st)+1", "as": "gi_rg"},
   {"calculate": "datum.gi_rg-0.36", "as": "xa_rg"}, {"calculate": "datum.gi_rg+0.36", "as": "xb_rg"}],
  "mark": {"type": "rule", "strokeWidth": 2.5, "color": "black"},
  "encoding": {"x": {"field": "xa_rg", "type": "quantitative", "scale": {"domain": [0.3, 3.7], "range": [542, 662.7], "nice": false, "zero": false}, "axis": null}, "x2": {"field": "xb_rg"},
   "y": {"field": "m_rg", "type": "quantitative", "scale": {"domain": [0, 100], "range": [546, 366.7], "nice": false, "zero": false}, "axis": null}}},
 {"data": {"name": "pv"},
  "transform": [{"filter": "datum.pn=='B4'"},
   {"calculate": "indexof(['Early','Mid','Late'],datum.fr)+1", "as": "a"}, {"calculate": "indexof(['Early','Mid','Late'],datum.to)+1", "as": "b"},
   {"calculate": "datum.b-datum.a==2?1:0", "as": "lv"}, {"calculate": "datum.a+(datum.lv==0&&datum.a==2?0.1:0)", "as": "p1"},
   {"calculate": "datum.b-(datum.lv==0&&datum.b==2?0.08:0)", "as": "p2"}, {"calculate": "100+datum.lv*13", "as": "yl"}],
  "mark": {"type": "rule", "strokeWidth": 1.5, "color": "black"},
  "encoding": {"x": {"field": "p1", "type": "quantitative", "scale": {"domain": [0.3, 3.7], "range": [542, 662.7], "nice": false, "zero": false}, "axis": null}, "x2": {"field": "p2"},
   "y": {"field": "yl", "type": "quantitative", "scale": {"domain": [0, 100], "range": [546, 366.7], "nice": false, "zero": false}, "axis": null}}},
 {"data": {"name": "pv"},
  "transform": [{"filter": "datum.pn=='B4'"},
   {"calculate": "indexof(['Early','Mid','Late'],datum.fr)+1", "as": "a"}, {"calculate": "indexof(['Early','Mid','Late'],datum.to)+1", "as": "b"},
   {"calculate": "datum.b-datum.a==2?1:0", "as": "lv"},
   {"calculate": "datum.lv==1?2:(datum.a==1?1.43:2.58)", "as": "pm"},
   {"calculate": "106.4+datum.lv*12.6", "as": "yt"}],
  "mark": {"type": "text", "fontSize": 10.5, "baseline": "middle"},
  "encoding": {"x": {"field": "pm", "type": "quantitative", "scale": {"domain": [0.3, 3.7], "range": [542, 662.7], "nice": false, "zero": false}, "axis": null},
   "y": {"field": "yt", "type": "quantitative", "scale": {"domain": [0, 100], "range": [546, 366.7], "nice": false, "zero": false}, "axis": null}, "text": {"field": "t"}}},
 {"data": {"values": [{"t": "%RORγT"}]}, "mark": {"type": "text", "fontWeight": "bold", "fontSize": 14},
  "encoding": {"x": {"datum": 2, "type": "quantitative", "scale": {"domain": [0.3, 3.7], "range": [542, 662.7], "nice": false, "zero": false}, "axis": null},
   "y": {"datum": 137.2, "type": "quantitative", "scale": {"domain": [0, 100], "range": [546, 366.7], "nice": false, "zero": false}, "axis": null}, "text": {"field": "t"}}},

 {"data": {"name": "s"},
  "transform": [{"bin": {"step": 4, "extent": [0, 100]}, "field": "fo", "as": "bn_fo"},
   {"window": [{"op": "row_number", "as": "r_fo"}], "groupby": ["st", "bn_fo"], "sort": [{"field": "fo"}]},
   {"calculate": "(datum.r_fo-1)%7+1", "as": "k_fo"},
   {"calculate": "indexof(['Early','Mid','Late'],datum.st)+1+(datum.k_fo%2==0?-1:1)*floor(datum.k_fo/2)*0.14", "as": "xo_fo"}],
  "mark": {"type": "circle", "size": 90, "stroke": "#262626", "strokeWidth": 0.8, "opacity": 1},
  "encoding": {
   "x": {"field": "xo_fo", "type": "quantitative", "scale": {"domain": [0.3, 3.7], "range": [703, 823.7], "nice": false, "zero": false}, "axis": {"orient": "bottom", "offset": -452, "values": [1, 2, 3], "labelExpr": "['','Early','Mid','Late'][datum.value]", "title": null, "labelFontSize": 15}},
   "y": {"field": "fo", "type": "quantitative", "scale": {"domain": [0, 100], "range": [546, 366.7], "nice": false, "zero": false}, "axis": {"orient": "left", "offset": -703, "values": [0, 20, 40, 60, 80, 100], "title": null}},
   "fill": {"field": "co", "type": "nominal", "scale": {"domain": ["E1","E2","M1","M2","M3","L1","L2","L3"], "range": ["#7a1430","#e0648f","#fbbf6b","#c8690f","#ef8a17","#62a9ac","#2f7475","#143c3c"]}, "legend": null}}},
 {"data": {"name": "s"},
  "transform": [{"aggregate": [{"op": "median", "field": "fo", "as": "m_fo"}], "groupby": ["st"]},
   {"calculate": "indexof(['Early','Mid','Late'],datum.st)+1", "as": "gi_fo"},
   {"calculate": "datum.gi_fo-0.36", "as": "xa_fo"}, {"calculate": "datum.gi_fo+0.36", "as": "xb_fo"}],
  "mark": {"type": "rule", "strokeWidth": 2.5, "color": "black"},
  "encoding": {"x": {"field": "xa_fo", "type": "quantitative", "scale": {"domain": [0.3, 3.7], "range": [703, 823.7], "nice": false, "zero": false}, "axis": null}, "x2": {"field": "xb_fo"},
   "y": {"field": "m_fo", "type": "quantitative", "scale": {"domain": [0, 100], "range": [546, 366.7], "nice": false, "zero": false}, "axis": null}}},
 {"data": {"name": "pv"},
  "transform": [{"filter": "datum.pn=='B5'"},
   {"calculate": "indexof(['Early','Mid','Late'],datum.fr)+1", "as": "a"}, {"calculate": "indexof(['Early','Mid','Late'],datum.to)+1", "as": "b"},
   {"calculate": "datum.b-datum.a==2?1:0", "as": "lv"}, {"calculate": "datum.a+(datum.lv==0&&datum.a==2?0.1:0)", "as": "p1"},
   {"calculate": "datum.b-(datum.lv==0&&datum.b==2?0.08:0)", "as": "p2"}, {"calculate": "100+datum.lv*13", "as": "yl"}],
  "mark": {"type": "rule", "strokeWidth": 1.5, "color": "black"},
  "encoding": {"x": {"field": "p1", "type": "quantitative", "scale": {"domain": [0.3, 3.7], "range": [703, 823.7], "nice": false, "zero": false}, "axis": null}, "x2": {"field": "p2"},
   "y": {"field": "yl", "type": "quantitative", "scale": {"domain": [0, 100], "range": [546, 366.7], "nice": false, "zero": false}, "axis": null}}},
 {"data": {"name": "pv"},
  "transform": [{"filter": "datum.pn=='B5'"},
   {"calculate": "indexof(['Early','Mid','Late'],datum.fr)+1", "as": "a"}, {"calculate": "indexof(['Early','Mid','Late'],datum.to)+1", "as": "b"},
   {"calculate": "datum.b-datum.a==2?1:0", "as": "lv"},
   {"calculate": "datum.lv==1?2:(datum.a==1?1.44:2.57)", "as": "pm"},
   {"calculate": "106.4+datum.lv*12.6", "as": "yt"}],
  "mark": {"type": "text", "fontSize": 10.5, "baseline": "middle"},
  "encoding": {"x": {"field": "pm", "type": "quantitative", "scale": {"domain": [0.3, 3.7], "range": [703, 823.7], "nice": false, "zero": false}, "axis": null},
   "y": {"field": "yt", "type": "quantitative", "scale": {"domain": [0, 100], "range": [546, 366.7], "nice": false, "zero": false}, "axis": null}, "text": {"field": "t"}}},
 {"data": {"values": [{"t": "%Foxp3"}]}, "mark": {"type": "text", "fontWeight": "bold", "fontSize": 14},
  "encoding": {"x": {"datum": 2, "type": "quantitative", "scale": {"domain": [0.3, 3.7], "range": [703, 823.7], "nice": false, "zero": false}, "axis": null},
   "y": {"datum": 137.2, "type": "quantitative", "scale": {"domain": [0, 100], "range": [546, 366.7], "nice": false, "zero": false}, "axis": null}, "text": {"field": "t"}}},

 {"data": {"name": "c"},
  "transform": [{"fold": ["T-bet", "RORγT", "RORα", "GATA3", "Foxp3"], "as": ["tf", "pct"]},
   {"calculate": "indexof(['Foxp3','GATA3','RORα','RORγT','T-bet'],datum.tf)", "as": "ord"}],
  "mark": {"type": "bar"},
  "encoding": {
   "x": {"field": "id", "type": "nominal", "scale": {"domain": ["E1.1","E1.2","E1.3","E1.4","E1.5","E1.6","E1.7","E1.8","E1.9","E1.10","E1.11","E1.12","g1","E2.1","E2.2","E2.3","E2.4","E2.5","E2.6","E2.7","E2.8","E2.9","E2.10","E2.11","E2.12","g2","M1.1","M1.2","M1.3","M1.4","M1.5","M1.6","M1.7","M1.8","M1.9","M1.10","M1.11","M1.12","M1.13","M1.14","g3","M2.1","M2.2","M2.3","M2.4","M2.5","g4","M3.1","M3.2","M3.3","M3.4","M3.5","M3.6","M3.7","M3.8","M3.9","M3.10","M3.11","g5","L1.1","L1.2","L1.3","L1.4","L1.5","L1.6","L1.7","L1.8","L1.9","L1.10","L1.11","L1.12","g6","L2.1","L2.2","L2.3","L2.4","L2.5","L2.6","L2.7","L2.8","L2.9","L2.10","L2.11","g7","L3.1","L3.2","L3.3","L3.4","L3.5","L3.6","L3.7","L3.8","L3.9"], "range": [111, 581], "paddingInner": 0.2, "paddingOuter": 0.6},
    "axis": {"orient": "bottom", "offset": -49.7, "labels": false, "ticks": false, "title": null}},
   "y": {"field": "pct", "type": "quantitative", "stack": "zero", "scale": {"domain": [0, 100], "range": [948.3, 638.3], "nice": false, "zero": false}, "axis": {"orient": "left", "offset": -111, "values": [0, 20, 40, 60, 80, 100], "title": "% Single TF⁺ lymphocytes", "titlePadding": 12, "titleFontSize": 14.5}},
   "fill": {"field": "tf", "type": "nominal", "scale": {"domain": ["T-bet", "RORγT", "RORα", "GATA3", "Foxp3"], "range": ["#d4c176", "#707070", "#7b3a7d", "#c2695a", "#168382"]},
    "legend": {"orient": "none", "legendX": 606, "legendY": 640, "title": null, "symbolType": "M-1,-0.5H1V0.5H-1Z", "symbolSize": 441, "symbolStrokeWidth": 0, "labelFontSize": 14, "labelColor": "black", "labelOffset": 7, "rowPadding": 9, "padding": 0}},
   "order": {"field": "ord", "type": "quantitative", "sort": "ascending"}}},
 {"data": {"name": "cohorts"}, "mark": {"type": "rule", "strokeWidth": 3.5},
  "encoding": {"x": {"field": "first", "type": "nominal", "bandPosition": 0, "scale": {"domain": ["E1.1","E1.2","E1.3","E1.4","E1.5","E1.6","E1.7","E1.8","E1.9","E1.10","E1.11","E1.12","g1","E2.1","E2.2","E2.3","E2.4","E2.5","E2.6","E2.7","E2.8","E2.9","E2.10","E2.11","E2.12","g2","M1.1","M1.2","M1.3","M1.4","M1.5","M1.6","M1.7","M1.8","M1.9","M1.10","M1.11","M1.12","M1.13","M1.14","g3","M2.1","M2.2","M2.3","M2.4","M2.5","g4","M3.1","M3.2","M3.3","M3.4","M3.5","M3.6","M3.7","M3.8","M3.9","M3.10","M3.11","g5","L1.1","L1.2","L1.3","L1.4","L1.5","L1.6","L1.7","L1.8","L1.9","L1.10","L1.11","L1.12","g6","L2.1","L2.2","L2.3","L2.4","L2.5","L2.6","L2.7","L2.8","L2.9","L2.10","L2.11","g7","L3.1","L3.2","L3.3","L3.4","L3.5","L3.6","L3.7","L3.8","L3.9"], "range": [111, 581], "paddingInner": 0.2, "paddingOuter": 0.6}, "axis": null},
   "x2": {"field": "last", "bandPosition": 1},
   "y": {"datum": -1.9, "type": "quantitative", "scale": {"domain": [0, 100], "range": [948.3, 638.3], "nice": false, "zero": false}, "axis": null},
   "stroke": {"field": "co", "type": "nominal", "scale": {"domain": ["E1","E2","M1","M2","M3","L1","L2","L3"], "range": ["#6a0d22","#d65a88","#f7b465","#c4650f","#eb8615","#5ba7a9","#2e6d6d","#0f3434"]}, "legend": null}}},
 {"data": {"name": "stages"}, "mark": {"type": "rule", "strokeWidth": 1.5, "color": "#1a1a1a"},
  "encoding": {"x": {"field": "first", "type": "nominal", "bandPosition": 0, "scale": {"domain": ["E1.1","E1.2","E1.3","E1.4","E1.5","E1.6","E1.7","E1.8","E1.9","E1.10","E1.11","E1.12","g1","E2.1","E2.2","E2.3","E2.4","E2.5","E2.6","E2.7","E2.8","E2.9","E2.10","E2.11","E2.12","g2","M1.1","M1.2","M1.3","M1.4","M1.5","M1.6","M1.7","M1.8","M1.9","M1.10","M1.11","M1.12","M1.13","M1.14","g3","M2.1","M2.2","M2.3","M2.4","M2.5","g4","M3.1","M3.2","M3.3","M3.4","M3.5","M3.6","M3.7","M3.8","M3.9","M3.10","M3.11","g5","L1.1","L1.2","L1.3","L1.4","L1.5","L1.6","L1.7","L1.8","L1.9","L1.10","L1.11","L1.12","g6","L2.1","L2.2","L2.3","L2.4","L2.5","L2.6","L2.7","L2.8","L2.9","L2.10","L2.11","g7","L3.1","L3.2","L3.3","L3.4","L3.5","L3.6","L3.7","L3.8","L3.9"], "range": [111, 581], "paddingInner": 0.2, "paddingOuter": 0.6}, "axis": null},
   "x2": {"field": "last", "bandPosition": 1},
   "y": {"datum": -8.6, "type": "quantitative", "scale": {"domain": [0, 100], "range": [948.3, 638.3], "nice": false, "zero": false}, "axis": null}}},
 {"data": {"name": "stages"}, "mark": {"type": "rule", "strokeWidth": 1.5, "color": "#1a1a1a"},
  "encoding": {"x": {"field": "first", "type": "nominal", "bandPosition": 0, "scale": {"domain": ["E1.1","E1.2","E1.3","E1.4","E1.5","E1.6","E1.7","E1.8","E1.9","E1.10","E1.11","E1.12","g1","E2.1","E2.2","E2.3","E2.4","E2.5","E2.6","E2.7","E2.8","E2.9","E2.10","E2.11","E2.12","g2","M1.1","M1.2","M1.3","M1.4","M1.5","M1.6","M1.7","M1.8","M1.9","M1.10","M1.11","M1.12","M1.13","M1.14","g3","M2.1","M2.2","M2.3","M2.4","M2.5","g4","M3.1","M3.2","M3.3","M3.4","M3.5","M3.6","M3.7","M3.8","M3.9","M3.10","M3.11","g5","L1.1","L1.2","L1.3","L1.4","L1.5","L1.6","L1.7","L1.8","L1.9","L1.10","L1.11","L1.12","g6","L2.1","L2.2","L2.3","L2.4","L2.5","L2.6","L2.7","L2.8","L2.9","L2.10","L2.11","g7","L3.1","L3.2","L3.3","L3.4","L3.5","L3.6","L3.7","L3.8","L3.9"], "range": [111, 581], "paddingInner": 0.2, "paddingOuter": 0.6}, "axis": null},
   "y": {"datum": -3.8, "type": "quantitative", "scale": {"domain": [0, 100], "range": [948.3, 638.3], "nice": false, "zero": false}, "axis": null}, "y2": {"datum": -8.6}}},
 {"data": {"name": "stages"}, "mark": {"type": "rule", "strokeWidth": 1.5, "color": "#1a1a1a"},
  "encoding": {"x": {"field": "last", "type": "nominal", "bandPosition": 1, "scale": {"domain": ["E1.1","E1.2","E1.3","E1.4","E1.5","E1.6","E1.7","E1.8","E1.9","E1.10","E1.11","E1.12","g1","E2.1","E2.2","E2.3","E2.4","E2.5","E2.6","E2.7","E2.8","E2.9","E2.10","E2.11","E2.12","g2","M1.1","M1.2","M1.3","M1.4","M1.5","M1.6","M1.7","M1.8","M1.9","M1.10","M1.11","M1.12","M1.13","M1.14","g3","M2.1","M2.2","M2.3","M2.4","M2.5","g4","M3.1","M3.2","M3.3","M3.4","M3.5","M3.6","M3.7","M3.8","M3.9","M3.10","M3.11","g5","L1.1","L1.2","L1.3","L1.4","L1.5","L1.6","L1.7","L1.8","L1.9","L1.10","L1.11","L1.12","g6","L2.1","L2.2","L2.3","L2.4","L2.5","L2.6","L2.7","L2.8","L2.9","L2.10","L2.11","g7","L3.1","L3.2","L3.3","L3.4","L3.5","L3.6","L3.7","L3.8","L3.9"], "range": [111, 581], "paddingInner": 0.2, "paddingOuter": 0.6}, "axis": null},
   "y": {"datum": -3.8, "type": "quantitative", "scale": {"domain": [0, 100], "range": [948.3, 638.3], "nice": false, "zero": false}, "axis": null}, "y2": {"datum": -8.6}}},
 {"data": {"name": "stages"}, "mark": {"type": "text", "fontSize": 15.5},
  "encoding": {"x": {"field": "mid", "type": "nominal", "scale": {"domain": ["E1.1","E1.2","E1.3","E1.4","E1.5","E1.6","E1.7","E1.8","E1.9","E1.10","E1.11","E1.12","g1","E2.1","E2.2","E2.3","E2.4","E2.5","E2.6","E2.7","E2.8","E2.9","E2.10","E2.11","E2.12","g2","M1.1","M1.2","M1.3","M1.4","M1.5","M1.6","M1.7","M1.8","M1.9","M1.10","M1.11","M1.12","M1.13","M1.14","g3","M2.1","M2.2","M2.3","M2.4","M2.5","g4","M3.1","M3.2","M3.3","M3.4","M3.5","M3.6","M3.7","M3.8","M3.9","M3.10","M3.11","g5","L1.1","L1.2","L1.3","L1.4","L1.5","L1.6","L1.7","L1.8","L1.9","L1.10","L1.11","L1.12","g6","L2.1","L2.2","L2.3","L2.4","L2.5","L2.6","L2.7","L2.8","L2.9","L2.10","L2.11","g7","L3.1","L3.2","L3.3","L3.4","L3.5","L3.6","L3.7","L3.8","L3.9"], "range": [111, 581], "paddingInner": 0.2, "paddingOuter": 0.6}, "axis": null},
   "y": {"datum": -12.8, "type": "quantitative", "scale": {"domain": [0, 100], "range": [948.3, 638.3], "nice": false, "zero": false}, "axis": null}, "text": {"field": "st"}}}
]
}
